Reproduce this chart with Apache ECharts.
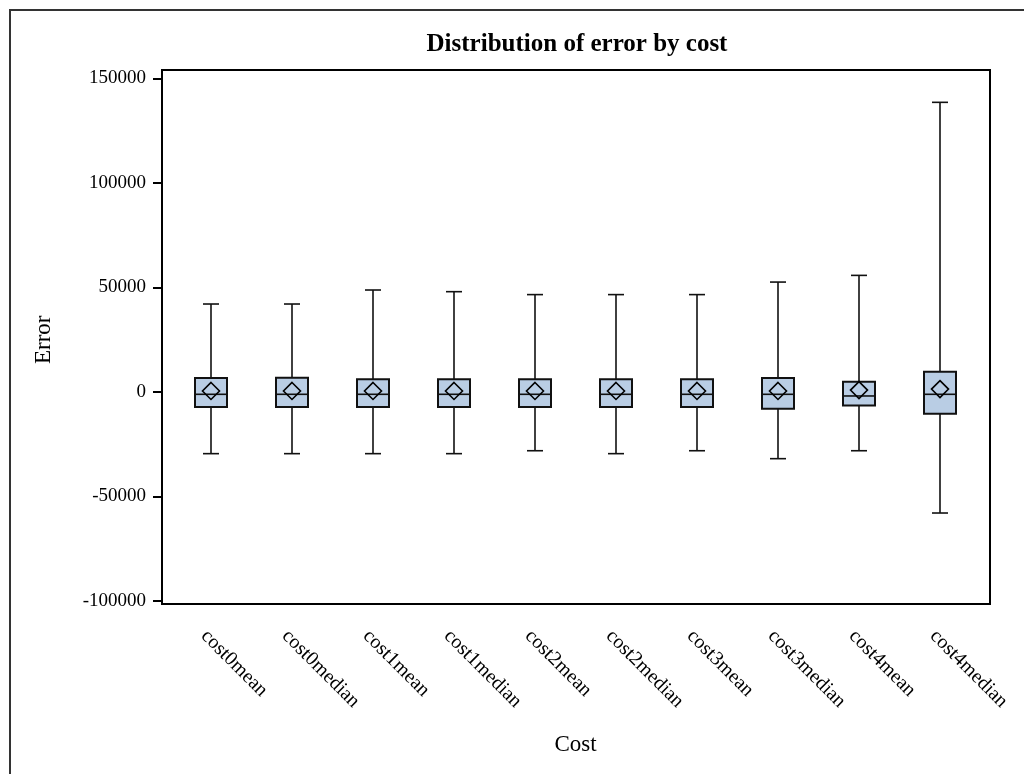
<!DOCTYPE html>
<html><head><meta charset="utf-8">
<script src="https://cdn.jsdelivr.net/npm/echarts@6/dist/echarts.min.js"></script>
<style>html,body{margin:0;padding:0;background:#fff}#c{width:1024px;height:774px}</style>
</head><body><div id="c"></div>
<script>
const categories = ['cost0mean','cost0median','cost1mean','cost1median','cost2mean','cost2median','cost3mean','cost3median','cost4mean','cost4median'];
const whiskerLow  = [-29500,-29500,-29500,-29500,-28100,-29500,-28100,-31900,-28100,-57900];
const q1          = [-7200,-7200,-7200,-7200,-7200,-7200,-7200,-8000,-6500,-10400];
const median      = [-1100,-1100,-1100,-1100,-1100,-1100,-1100,-1100,-1900,-1100];
const q3          = [6700,6800,6100,6100,6100,6100,6100,6700,4900,9700];
const whiskerHigh = [42100,42100,48800,48000,46600,46600,46600,52600,55800,138600];
const means       = [500,500,500,500,500,500,500,500,900,1400];
const yTickValues = [-100000,-50000,0,50000,100000,150000];

const FONT = 'Liberation Serif';
const INK = '#111';

function renderBox(params, api) {
  const i = api.value(0);
  const lo = api.coord([i, api.value(1)]);
  const b1 = api.coord([i, api.value(2)]);
  const md = api.coord([i, api.value(3)]);
  const b3 = api.coord([i, api.value(4)]);
  const hi = api.coord([i, api.value(5)]);
  const bw = 32, cw = 16, x = lo[0];
  const ls = {stroke: INK, lineWidth: 1.6};
  return {type: 'group', children: [
    {type: 'line', shape: {x1: x, y1: hi[1], x2: x, y2: b3[1]}, style: ls},
    {type: 'line', shape: {x1: x, y1: b1[1], x2: x, y2: lo[1]}, style: ls},
    {type: 'line', shape: {x1: x - cw/2, y1: hi[1], x2: x + cw/2, y2: hi[1]}, style: ls},
    {type: 'line', shape: {x1: x - cw/2, y1: lo[1], x2: x + cw/2, y2: lo[1]}, style: ls},
    {type: 'rect', shape: {x: x - bw/2, y: b3[1], width: bw, height: b1[1] - b3[1]},
      style: {fill: '#b9cde4', stroke: INK, lineWidth: 2}},
    {type: 'line', shape: {x1: x - bw/2, y1: md[1], x2: x + bw/2, y2: md[1]}, style: ls}
  ]};
}

const chart = echarts.init(document.getElementById('c'), null, {renderer: 'canvas'});
chart.setOption({
  animation: false,
  backgroundColor: '#fff',
  title: {
    text: 'Distribution of error by cost',
    left: 572, top: 27, textAlign: 'center',
    textStyle: {fontFamily: FONT, fontSize: 25, fontWeight: 'bold', color: '#000'}
  },
  graphic: [{
    type: 'rect', shape: {x: 10, y: 10, width: 1200, height: 1200},
    style: {fill: 'none', stroke: '#333', lineWidth: 2}, silent: true
  }],
  grid: [
    {left: 162, top: 70, width: 828, height: 534, show: true, borderColor: '#000', borderWidth: 2, backgroundColor: 'transparent'},
    {left: 170.5, top: 78.5, width: 810, height: 522.5}
  ],
  xAxis: [
    {gridIndex: 0, type: 'value', show: false, min: 0, max: 1},
    {gridIndex: 1, type: 'category', data: categories, offset: 3,
      axisLine: {show: false},
      axisTick: {show: true, alignWithLabel: true, length: 10, lineStyle: {color: '#000', width: 2}},
      axisLabel: {rotate: -45, margin: 22, verticalAlign: 'top', fontFamily: FONT, fontSize: 20, color: '#000', interval: 0},
      name: 'Cost', nameLocation: 'middle', nameGap: 129,
      nameTextStyle: {fontFamily: FONT, fontSize: 23, color: '#000', verticalAlign: 'top'}
    }
  ],
  yAxis: [
    {gridIndex: 0, type: 'value', show: false, min: 0, max: 1},
    {gridIndex: 1, type: 'value', min: yTickValues[0], max: yTickValues[yTickValues.length - 1],
      interval: yTickValues[1] - yTickValues[0], offset: 8.5,
      splitLine: {show: false},
      axisLine: {show: false},
      axisTick: {show: true, length: 9, lineStyle: {color: '#000', width: 2}},
      axisLabel: {margin: 16, fontFamily: FONT, fontSize: 19, color: '#000', formatter: v => String(v)},
      name: 'Error', nameLocation: 'middle', nameGap: 107, nameRotate: 90,
      nameTextStyle: {fontFamily: FONT, fontSize: 23, color: '#000'}
    }
  ],
  series: [
    {type: 'custom', xAxisIndex: 1, yAxisIndex: 1, renderItem: renderBox,
      encode: {x: 0, y: [1, 2, 3, 4, 5]},
      data: categories.map((c, i) => [i, whiskerLow[i], q1[i], median[i], q3[i], whiskerHigh[i]]), z: 2},
    {type: 'scatter', xAxisIndex: 1, yAxisIndex: 1, symbol: 'diamond', symbolSize: 17,
      itemStyle: {color: 'rgba(0,0,0,0)', borderColor: '#000', borderWidth: 1.6, opacity: 1},
      data: means.map((m, i) => [i, m]), z: 3}
  ]
});
</script>
</body></html>
